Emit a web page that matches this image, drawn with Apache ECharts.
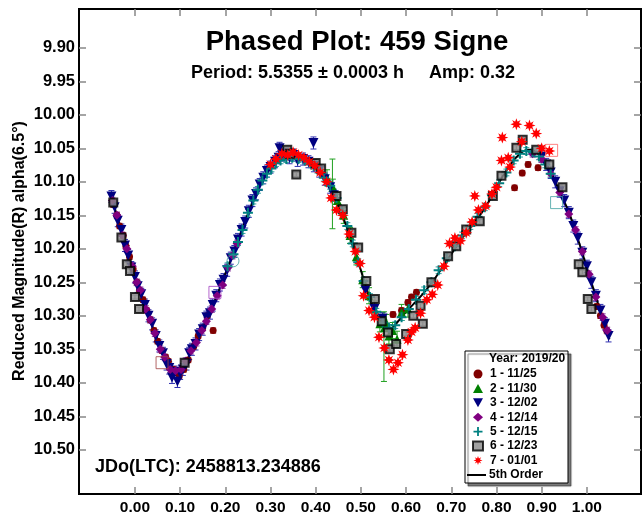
<!DOCTYPE html>
<html><head><meta charset="utf-8">
<script src="https://cdn.jsdelivr.net/npm/echarts@6/dist/echarts.min.js"></script>
<style>html,body{margin:0;padding:0;background:#fff}#c{width:643px;height:516px}</style>
</head><body><div id="c"></div>
<script>
const FONT = "'Liberation Sans', Arial, sans-serif";
const titleText = 'Phased Plot: 459 Signe';
const subtitleText = 'Period: 5.5355 \u00b1 0.0003 h     Amp: 0.32';
const epochText = 'JDo(LTC): 2458813.234886';
const yAxisTitle = 'Reduced Magnitude(R) alpha(6.5\u00b0)';
const legendTitle = 'Year: 2019/20';
const sessionNames = ['1 - 11/25','2 - 11/30','3 - 12/02','4 - 12/14','5 - 12/15','6 - 12/23','7 - 01/01'];
const fitName = '5th Order';
const xTicks = [0.00,0.10,0.20,0.30,0.40,0.50,0.60,0.70,0.80,0.90,1.00];
const yTicks = [9.90,9.95,10.00,10.05,10.10,10.15,10.20,10.25,10.30,10.35,10.40,10.45,10.50];

// session 1 - 11/25
const s1 = [[-0.048,10.134],[-0.040,10.150],[-0.034,10.166],[-0.026,10.180],[-0.020,10.196],[-0.012,10.212],[-0.004,10.230],[0.004,10.250],[0.010,10.262],[0.018,10.276],[0.026,10.292],[0.034,10.306],[0.042,10.322],[0.050,10.338],[0.060,10.352],[0.068,10.362],[0.074,10.368],[0.086,10.380],[0.098,10.390],[0.108,10.380],[0.118,10.366],[0.130,10.346],[0.140,10.330],[0.150,10.318],[0.160,10.300],[0.173,10.322],[0.571,10.298],[0.590,10.292],[0.604,10.280],[0.612,10.272],[0.623,10.265],[0.840,10.109],[0.857,10.087],[0.870,10.074],[0.892,10.079],[1.022,10.286],[1.030,10.300],[1.038,10.314],[1.044,10.322]];
// session 2 - 11/30
const s2 = [[0.425,10.094],[0.438,10.108],[0.448,10.128],[0.462,10.150],[0.476,10.180],[0.490,10.212],[0.504,10.246],[0.518,10.270],[0.530,10.290],[0.542,10.312],[0.552,10.318],[0.556,10.310],[0.562,10.330],[0.570,10.322],[0.580,10.335],[0.590,10.295],[0.604,10.290]];
const s2WideErr = [[0.437,10.118,0.052],[0.551,10.346,0.052]];
// session 3 - 12/02
const s3 = [[-0.052,10.122],[-0.045,10.138],[-0.038,10.158],[-0.030,10.172],[-0.022,10.195],[-0.015,10.210],[-0.008,10.228],[0.000,10.242],[0.006,10.256],[0.014,10.268],[0.022,10.284],[0.030,10.300],[0.038,10.312],[0.046,10.330],[0.054,10.345],[0.062,10.356],[0.070,10.372],[0.076,10.378],[0.082,10.392],[0.088,10.384],[0.094,10.398],[0.100,10.386],[0.106,10.380],[0.114,10.372],[0.120,10.356],[0.126,10.350],[0.134,10.342],[0.142,10.328],[0.150,10.320],[0.158,10.302],[0.166,10.296],[0.172,10.284],[0.180,10.270],[0.188,10.254],[0.196,10.246],[0.204,10.232],[0.212,10.214],[0.220,10.204],[0.228,10.186],[0.236,10.172],[0.244,10.160],[0.252,10.144],[0.260,10.128],[0.268,10.118],[0.276,10.104],[0.284,10.094],[0.292,10.084],[0.300,10.078],[0.310,10.070],[0.318,10.064],[0.320,10.050],[0.326,10.060],[0.334,10.058],[0.342,10.064],[0.350,10.060],[0.360,10.068],[0.372,10.066],[0.384,10.070],[0.395,10.042],[0.396,10.076],[0.408,10.084],[0.420,10.096],[0.432,10.108],[0.440,10.120],[0.510,10.262],[0.530,10.290],[0.548,10.304],[0.900,10.062],[0.910,10.074],[0.920,10.086],[0.930,10.100],[0.940,10.114],[0.950,10.128],[0.960,10.146],[0.970,10.166],[0.980,10.184],[0.990,10.206],[1.000,10.226],[1.010,10.250],[1.020,10.270],[1.030,10.292],[1.040,10.312],[1.048,10.330]];
// session 4 - 12/14
const s4 = [[-0.050,10.128],[-0.040,10.150],[-0.028,10.180],[-0.018,10.200],[-0.006,10.226],[0.004,10.250],[0.012,10.262],[0.024,10.290],[0.034,10.306],[0.044,10.326],[0.056,10.350],[0.066,10.362],[0.078,10.380],[0.090,10.382],[0.102,10.380],[0.112,10.368],[0.124,10.352],[0.136,10.340],[0.148,10.322],[0.158,10.308],[0.170,10.290],[0.182,10.270],[0.194,10.254],[0.206,10.228],[0.216,10.210],[0.226,10.192],[0.880,10.058],[0.900,10.066],[0.920,10.088],[0.940,10.116],[0.960,10.148],[0.975,10.172],[0.990,10.204],[1.005,10.238],[1.020,10.272],[1.035,10.302],[1.045,10.322]];
// session 5 - 12/15
const s5 = [[0.205,10.226],[0.218,10.208],[0.228,10.190],[0.238,10.172],[0.250,10.146],[0.262,10.128],[0.272,10.112],[0.282,10.098],[0.292,10.088],[0.302,10.080],[0.312,10.072],[0.322,10.068],[0.335,10.066],[0.348,10.064],[0.362,10.066],[0.376,10.068],[0.390,10.074],[0.404,10.082],[0.418,10.094],[0.432,10.106],[0.446,10.124],[0.458,10.144],[0.470,10.166],[0.482,10.192],[0.494,10.220],[0.506,10.248],[0.520,10.272],[0.534,10.294],[0.548,10.310],[0.562,10.318],[0.576,10.314],[0.590,10.302],[0.606,10.290],[0.622,10.276],[0.640,10.262],[0.656,10.250],[0.672,10.232],[0.690,10.214],[0.708,10.196],[0.724,10.180],[0.742,10.166],[0.758,10.152],[0.774,10.138],[0.790,10.120],[0.806,10.102],[0.822,10.086],[0.838,10.068],[0.852,10.058],[0.866,10.054],[0.880,10.056],[0.894,10.062],[0.908,10.074],[0.920,10.088]];
// session 6 - 12/23
const s6 = [[-0.048,10.131],[-0.030,10.183],[-0.018,10.223],[-0.011,10.233],[0.000,10.272],[0.009,10.290],[0.110,10.370],[0.337,10.052],[0.343,10.058],[0.357,10.089],[0.400,10.072],[0.412,10.080],[0.446,10.121],[0.460,10.141],[0.479,10.176],[0.494,10.198],[0.512,10.248],[0.531,10.275],[0.546,10.308],[0.560,10.325],[0.564,10.350],[0.578,10.342],[0.600,10.327],[0.616,10.300],[0.632,10.285],[0.637,10.312],[0.656,10.250],[0.693,10.211],[0.711,10.196],[0.733,10.171],[0.763,10.159],[0.792,10.121],[0.811,10.091],[0.844,10.049],[0.858,10.037],[0.888,10.052],[0.917,10.074],[0.946,10.108],[0.982,10.223],[0.990,10.235],[1.002,10.275],[1.010,10.290]];
// session 7 - 01/01
const s7 = [[0.300,10.074],[0.312,10.066],[0.325,10.058],[0.338,10.060],[0.350,10.056],[0.362,10.060],[0.374,10.064],[0.386,10.070],[0.398,10.076],[0.410,10.086],[0.424,10.100],[0.434,10.124],[0.446,10.142],[0.460,10.150],[0.474,10.178],[0.488,10.204],[0.498,10.222],[0.506,10.270],[0.518,10.292],[0.530,10.302],[0.540,10.332],[0.552,10.348],[0.562,10.366],[0.572,10.380],[0.582,10.370],[0.592,10.358],[0.604,10.336],[0.612,10.324],[0.620,10.318],[0.632,10.296],[0.646,10.276],[0.658,10.268],[0.670,10.254],[0.684,10.226],[0.696,10.192],[0.708,10.184],[0.720,10.188],[0.733,10.176],[0.746,10.160],[0.752,10.121],[0.760,10.142],[0.776,10.136],[0.790,10.118],[0.800,10.108],[0.811,10.068],[0.813,10.034],[0.826,10.064],[0.830,10.078],[0.844,10.014],[0.856,10.040],[0.873,10.016],[0.888,10.028],[0.900,10.050],[0.917,10.054]];
// error bar half-widths per session (mag)
const sessionErr = [0.004, 0.012, 0.009, 0.005, 0.005, 0.003, 0.003];
// excluded / highlighted points (hollow markers)
const excl1 = [[0.060,10.370]];
const excl4 = [[0.177,10.265]];
const excl5c = [[0.217,10.218]];
const excl5s = [[0.933,10.131]];
const excl7 = [[0.922,10.053]];
// 5th order Fourier fit
const fitCurve = [[-0.055,10.116],[-0.04,10.150],[-0.025,10.185],[-0.01,10.220],[0.00,10.245],[0.01,10.262],[0.025,10.290],[0.04,10.318],[0.05,10.335],[0.06,10.355],[0.07,10.370],[0.08,10.382],[0.09,10.388],[0.10,10.385],[0.11,10.375],[0.12,10.360],[0.13,10.347],[0.14,10.333],[0.15,10.318],[0.16,10.303],[0.17,10.288],[0.18,10.272],[0.19,10.255],[0.20,10.237],[0.21,10.220],[0.22,10.202],[0.23,10.184],[0.24,10.165],[0.25,10.148],[0.26,10.131],[0.27,10.115],[0.28,10.100],[0.29,10.089],[0.30,10.080],[0.31,10.073],[0.32,10.068],[0.33,10.065],[0.34,10.063],[0.35,10.062],[0.36,10.062],[0.37,10.064],[0.38,10.067],[0.39,10.072],[0.40,10.078],[0.41,10.085],[0.42,10.093],[0.43,10.103],[0.44,10.118],[0.45,10.135],[0.46,10.152],[0.47,10.170],[0.48,10.192],[0.49,10.212],[0.50,10.232],[0.51,10.255],[0.52,10.275],[0.53,10.292],[0.54,10.305],[0.55,10.315],[0.56,10.320],[0.57,10.318],[0.58,10.310],[0.59,10.302],[0.60,10.294],[0.62,10.280],[0.64,10.265],[0.66,10.248],[0.68,10.228],[0.70,10.208],[0.72,10.188],[0.74,10.170],[0.76,10.153],[0.78,10.133],[0.80,10.108],[0.82,10.085],[0.84,10.066],[0.86,10.054],[0.87,10.052],[0.88,10.053],[0.90,10.063],[0.92,10.085],[0.94,10.115],[0.96,10.145],[0.98,10.185],[1.00,10.228],[1.02,10.272],[1.04,10.315],[1.05,10.335]];

const sessions = [s1, s2, s3, s4, s5, s6, s7];
const colors = ['#800000','#008000','#000080','#800080','#008080','#808080','#ff0000'];
const errColors = ['#a04040','#20a020','#3030b0','#9040a0','#30a0a0','#909090','#ff6060'];
const DOWN_TRI = 'path://M0,0H10L5,9Z';
const PLUS = 'path://M4,0H6V4H10V6H6V10H4V6H0V4H4Z';
const STAR = 'path://M10,5L7.1,6.0L8.54,8.54L6.0,7.1L5,10L4.0,7.1L1.46,8.54L2.9,6.0L0,5L2.9,4.0L1.46,1.46L4.0,2.9L5,0L6.0,2.9L8.54,1.46L7.1,4.0Z';
const symbols = ['circle','triangle',DOWN_TRI,'diamond',PLUS,'rect',STAR];
const sizes = [7,9,10,9,10,8,12];

function errSeries(data, err, color){
  return {
    type:'custom', silent:true, z:1, clip:true,
    data: data.map(p => [p[0], p[1], p.length > 2 ? p[2] : err]),
    encode:{x:0, y:1},
    renderItem(params, api){
      const x = api.value(0), y = api.value(1), e = api.value(2);
      const a = api.coord([x, y - e]), b = api.coord([x, y + e]);
      const w = 3, st = {stroke: color, lineWidth: 1};
      return {type:'group', children:[
        {type:'line', shape:{x1:a[0],y1:a[1],x2:b[0],y2:b[1]}, style:st},
        {type:'line', shape:{x1:a[0]-w,y1:a[1],x2:a[0]+w,y2:a[1]}, style:st},
        {type:'line', shape:{x1:b[0]-w,y1:b[1],x2:b[0]+w,y2:b[1]}, style:st}
      ]};
    }
  };
}

const series = [];
series.push({name: fitName, type:'line', data: fitCurve, showSymbol:false, smooth:0.3, z:1,
  lineStyle:{color:'#000', width:2}, itemStyle:{color:'#000'}});
sessions.forEach((d, i) => { series.push(errSeries(d, sessionErr[i], errColors[i])); });
series.push(errSeries(s2WideErr, 0, errColors[1]));
function hollow(data, symbol, color){
  return {type:'scatter', data, symbol, symbolSize:12, z:3, silent:true,
    itemStyle:{color:'rgba(0,0,0,0)', borderColor:color, borderWidth:1}};
}
series.push(hollow(excl1,'rect','#a04040'));
series.push(hollow(excl4,'rect','#a040c0'));
series.push(hollow(excl5c,'circle','#40a0a0'));
series.push(hollow(excl5s,'rect','#40a0a0'));
series.push(hollow(excl7,'rect','#ff6060'));
sessions.forEach((d, i) => {
  const s = {name: sessionNames[i], type:'scatter', data:d, symbol:symbols[i], symbolSize:sizes[i], z:2+i*0.01,
    itemStyle:{color:colors[i], opacity:1}};
  if (i === 5) s.itemStyle = {color:'#8a8a8a', borderColor:'#000', borderWidth:2};
  series.push(s);
});

const tickStyle = {inside:true, length:7, lineStyle:{color:'#888', width:1.5}};
const labelStyle = {fontFamily:FONT, fontWeight:'bold', color:'#000'};
const legendText = {fontFamily:FONT, fontWeight:'bold', fontSize:12, color:'#000', lineHeight:12};
const option = {
  animation:false,
  backgroundColor:'#fff',
  textStyle:{fontFamily:FONT},
  title:[
    {text:titleText, left:352, top:23, textAlign:'center', textStyle:{fontFamily:FONT, fontWeight:'bold', fontSize:27.5, color:'#000'}},
    {text:subtitleText, left:348, top:59, textAlign:'center', textStyle:{fontFamily:FONT, fontWeight:'bold', fontSize:18, color:'#000'}}
  ],
  grid:{left:79, top:9, width:562, height:486, show:true, borderColor:'#000', borderWidth:2, backgroundColor:'transparent'},
  xAxis:[
    {type:'value', min:-0.1238, max:1.1198, position:'bottom',
      axisLine:{show:true, onZero:false, lineStyle:{color:'#000', width:2}},
      axisTick:Object.assign({customValues:xTicks}, tickStyle),
      axisLabel:Object.assign({customValues:xTicks, margin:6, fontSize:15.5, formatter:v => v.toFixed(2)}, labelStyle),
      splitLine:{show:false}},
    {type:'value', min:-0.1238, max:1.1198, position:'top',
      axisLine:{show:true, onZero:false, lineStyle:{color:'#000', width:2}},
      axisTick:Object.assign({customValues:xTicks}, tickStyle),
      axisLabel:{show:false}, splitLine:{show:false}}
  ],
  yAxis:[
    {type:'value', inverse:true, min:9.842, max:10.566, position:'left',
      axisLine:{show:true, onZero:false, lineStyle:{color:'#000', width:2}},
      axisTick:Object.assign({customValues:yTicks}, tickStyle),
      axisLabel:Object.assign({customValues:yTicks, margin:4, fontSize:16.5, formatter:v => v.toFixed(2)}, labelStyle),
      splitLine:{show:false}},
    {type:'value', inverse:true, min:9.842, max:10.566, position:'right',
      axisLine:{show:true, onZero:false, lineStyle:{color:'#000', width:2}},
      axisTick:Object.assign({customValues:yTicks}, tickStyle),
      axisLabel:{show:false}, splitLine:{show:false}}
  ],
  legend:[
    {orient:'vertical', left:472, top:368, padding:0, z:11, itemWidth:10, itemHeight:9, itemGap:2.4, selectedMode:false,
      textStyle:Object.assign({padding:[0,0,0,2]}, legendText),
      data: sessionNames.map((n, i) => ({name:n, icon:symbols[i]}))},
    {orient:'vertical', left:467, top:469, padding:0, z:11, itemWidth:19, itemHeight:9, selectedMode:false,
      textStyle:Object.assign({padding:[0,0,0,-2]}, legendText),
      data:[{name:fitName, icon:'path://M0,0H19V2H0Z'}]}
  ],
  graphic:[
    {type:'rect', z:10, shape:{x:465, y:351, width:103, height:132},
      style:{fill:'#fff', stroke:'#000', lineWidth:1, shadowColor:'rgba(0,0,0,0.5)', shadowOffsetX:3, shadowOffsetY:3, shadowBlur:1}},
    {type:'text', z:11, left:489, top:353, style:{text:legendTitle, font:"bold 12px 'Liberation Sans', Arial, sans-serif", fill:'#000'}},
    {type:'text', z:11, left:95, top:458, style:{text:epochText, font:"bold 18px 'Liberation Sans', Arial, sans-serif", fill:'#000'}},
    {type:'text', z:11, x:20, y:251, rotation:Math.PI/2,
      style:{text:yAxisTitle, font:"bold 16px 'Liberation Sans', Arial, sans-serif", fill:'#000', align:'center', verticalAlign:'middle'}}
  ],
  series
};
const chart = echarts.init(document.getElementById('c'), null, {renderer:'canvas'});
chart.setOption(option);
</script></body></html>
